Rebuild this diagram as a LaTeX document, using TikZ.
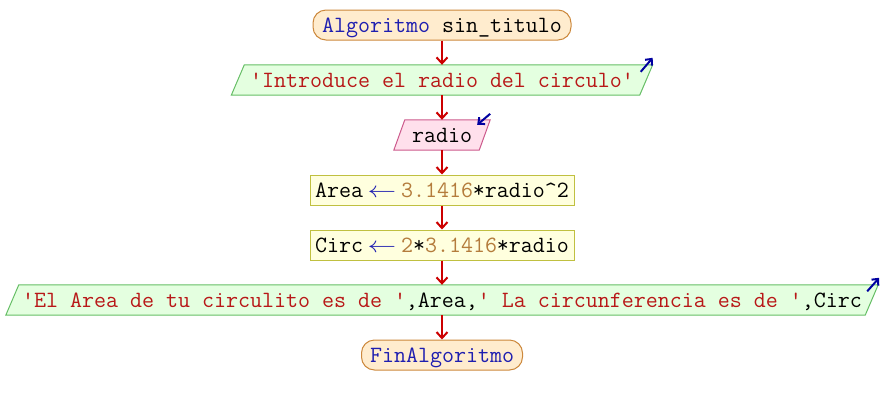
\documentclass[tikz,border=0pt]{standalone}
\usepackage{fontspec}
\usetikzlibrary{arrows.meta,backgrounds,calc}

\definecolor{termfill}{RGB}{255,236,206}
\definecolor{termline}{RGB}{204,136,60}
\definecolor{outfill}{RGB}{228,255,224}
\definecolor{outline}{RGB}{102,190,102}
\definecolor{infill}{RGB}{255,224,236}
\definecolor{inline}{RGB}{204,90,140}
\definecolor{asgfill}{RGB}{255,255,222}
\definecolor{asgline}{RGB}{192,192,64}
\definecolor{flowred}{RGB}{204,0,0}
\definecolor{iconblue}{RGB}{0,0,160}
\definecolor{kw}{RGB}{30,30,176}
\definecolor{str}{RGB}{184,24,24}
\definecolor{num}{RGB}{180,124,60}

\newcommand{\kw}[1]{\textcolor{kw}{#1}}
\newcommand{\str}[1]{\textcolor{str}{#1}}
\newcommand{\num}[1]{\textcolor{num}{#1}}
\newcommand{\qt}{\textquotesingle}
\newcommand{\asgarrow}{\makebox[38pt]{\textcolor{kw}{\scalebox{1.15}[0.9]{$\leftarrow$}}}}

\begin{document}
\begin{tikzpicture}[x=1pt,y=-1pt,
  txt/.style={font=\ttfamily\fontsize{23.3}{27}\selectfont, inner sep=0pt,
    text height=17pt, text depth=3pt, minimum height=30pt},
  term/.style={txt, draw=termline, fill=termfill, line width=1pt, rounded corners=13pt},
  asg/.style={txt, draw=asgline, fill=asgfill, line width=1pt},
  slot/.style={txt, draw=none},
  outshape/.style={draw=outline, fill=outfill, line width=1pt},
  inshape/.style={draw=inline, fill=infill, line width=1pt},
  flow/.style={draw=flowred, line width=2pt,
    -{Straight Barb[length=6pt,width=11pt,line width=2pt]}},
  icon/.style={draw=iconblue, line width=2pt,
    -{Straight Barb[length=5pt,width=9pt,line width=2pt]}}]
\useasboundingbox (0,0) rectangle (884,405);

% blocks of the flowchart, top to bottom
\node[term, minimum width=258pt] (start) at (442,25) {\kw{Algoritmo} sin\_titulo};
\node[slot, minimum width=408pt] (out1) at (442,80) {\str{\qt Introduce el radio del circulo\qt}};
\node[slot, minimum width=85pt] (in1) at (442,135) {radio};
\node[asg, minimum width=264pt] (area) at (442,190) {Area\asgarrow\num{3.1416}*radio\textasciicircum2};
\node[asg, minimum width=264pt] (circ) at (442,245) {Circ\asgarrow\num{2}*\num{3.1416}*radio};
\node[slot, minimum width=859pt] (out2) at (442,300) {\str{\qt El Area de tu circulito es de \qt},Area,\str{\qt\ La circunferencia es de \qt},Circ};
\node[term, minimum width=161pt] (stop) at (442,355) {\kw{FinAlgoritmo}};

% slanted outlines for the input/output blocks
\begin{scope}[on background layer]
  \draw[outshape] ($(out1.north west)+(6.5,0)$) -- ($(out1.north east)+(6.5,0)$)
    -- ($(out1.south east)+(-6.5,0)$) -- ($(out1.south west)+(-6.5,0)$) -- cycle;
  \draw[inshape] ($(in1.north west)+(5.5,0)$) -- ($(in1.north east)+(5.5,0)$)
    -- ($(in1.south east)+(-5.5,0)$) -- ($(in1.south west)+(-5.5,0)$) -- cycle;
  \draw[outshape] ($(out2.north west)+(6.5,0)$) -- ($(out2.north east)+(6.5,0)$)
    -- ($(out2.south east)+(-6.5,0)$) -- ($(out2.south west)+(-6.5,0)$) -- cycle;
\end{scope}

% output / input markers
\coordinate (o1a) at ($(out1.north east)+(-5.5,7)$);
\coordinate (o1b) at ($(out1.north east)+(6.5,-7)$);
\draw[icon] (o1a) -- (o1b);
\coordinate (i1a) at ($(in1.north east)+(5.5,-6)$);
\coordinate (i1b) at ($(in1.north east)+(-7.5,5)$);
\draw[icon] (i1a) -- (i1b);
\coordinate (o2a) at ($(out2.north east)+(-4.5,6.5)$);
\coordinate (o2b) at ($(out2.north east)+(7.5,-7)$);
\draw[icon] (o2a) -- (o2b);

% control flow
\draw[flow] (start) -- (out1);
\draw[flow] (out1) -- (in1);
\draw[flow] (in1) -- (area);
\draw[flow] (area) -- (circ);
\draw[flow] (circ) -- (out2);
\draw[flow] (out2) -- (stop);
\end{tikzpicture}
\end{document}
